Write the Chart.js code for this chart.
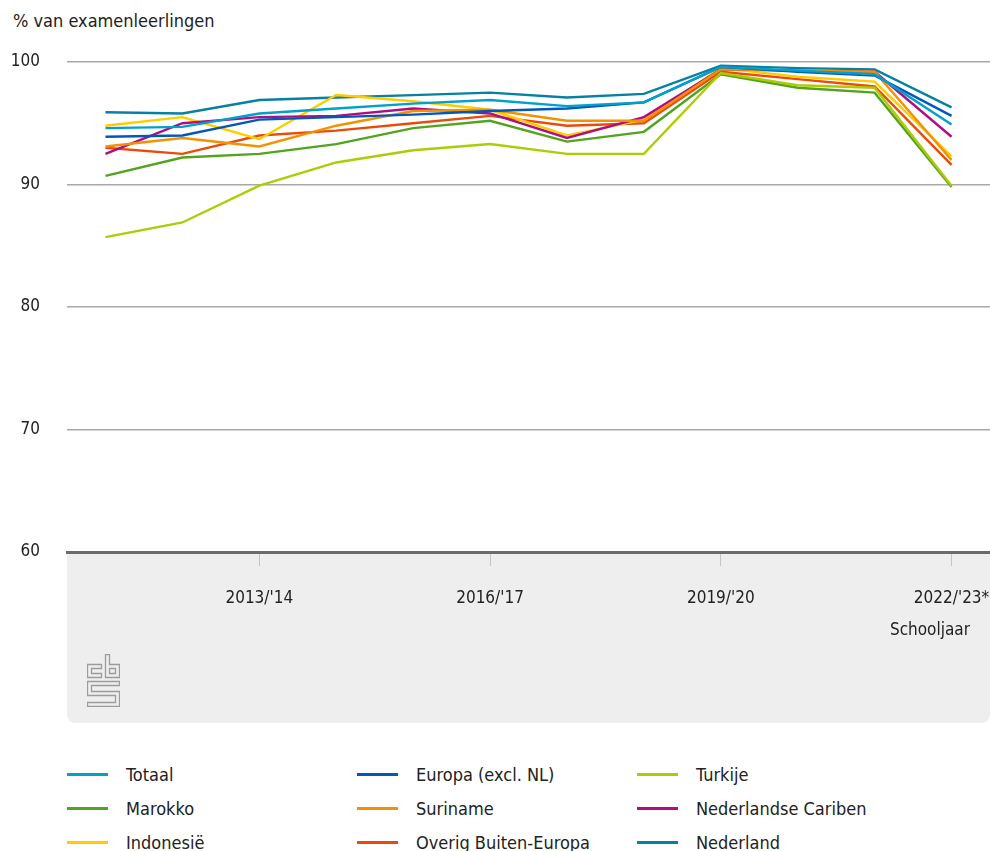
<!DOCTYPE html>
<html lang="nl">
<head>
<meta charset="utf-8">
<title>Examenleerlingen per herkomst</title>
<script src="https://cdn.jsdelivr.net/npm/chart.js@4.4.1/dist/chart.umd.min.js"></script>
<style>
  body { margin: 0; background: #fff; font-family: 'DejaVu Sans Condensed', 'Liberation Sans Narrow', sans-serif; color: #222; }
  #wrap { position: relative; width: 990px; height: 851px; overflow: hidden; }
  #yTitle { position: absolute; left: 13px; top: 10px; font-size: 18px; }
  #axisBox { position: absolute; left: 67px; top: 552px; width: 923px; height: 171px; background: #eeeeee; border-radius: 0 0 8px 8px; }
  #myChart { position: absolute; left: 0; top: 0; }
  #xTitle { position: absolute; right: 20px; top: 619px; font-size: 17px; }
  #logo { position: absolute; left: 87px; top: 654px; }
  #legend { position: absolute; left: 67px; top: 763px; width: 923px; display: grid; grid-template-columns: 290px 280px 300px; row-gap: 12px; font-size: 18px; }
  .item { display: flex; align-items: center; height: 22px; }
  .swatch { width: 41px; height: 3px; margin-right: 18px; }
</style>
</head>
<body>
<div id="wrap">
  <div id="yTitle">% van examenleerlingen</div>
  <div id="axisBox"></div>
  <canvas id="myChart" width="990" height="620"></canvas>
  <div id="xTitle">Schooljaar</div>
  <svg id="logo" width="33" height="53" viewBox="0 0 33 53" fill="none" stroke="#9c9c9c" stroke-width="1.3">
    <path d="M14.5 10.5 H0.5 V23.5 H14.5 V19.5 H4.5 V14.5 H14.5 Z"/>
    <path d="M18.5 0.5 H22.5 V10.5 H32.5 V23.5 H18.5 Z M22.5 14.5 V19.5 H28.5 V14.5 Z"/>
    <path d="M0.5 27.5 H32.5 V31.5 H4.5 V37.5 H32.5 V52.5 H0.5 V48.5 H28.5 V41.5 H0.5 Z"/>
  </svg>
  <div id="legend"></div>
</div>
<script>
// School years on the x axis
const schooljaren = ["2011/'12", "2012/'13", "2013/'14", "2014/'15", "2015/'16", "2016/'17",
  "2017/'18", "2018/'19", "2019/'20", "2020/'21", "2021/'22", "2022/'23*"];

// Share of exam candidates that passed (%)
const totaal      = [94.6, 94.7, 95.8, 96.2, 96.6, 96.9, 96.4, 96.7, 99.6, 99.3, 99.0, 94.9];
const europa      = [93.9, 94.0, 95.3, 95.5, 95.7, 96.0, 96.2, 96.7, 99.6, 99.2, 98.9, 95.6];
const turkije     = [85.7, 86.9, 89.9, 91.8, 92.8, 93.3, 92.5, 92.5, 99.1, 98.1, 97.9, 89.9];
const marokko     = [90.7, 92.2, 92.5, 93.3, 94.6, 95.2, 93.5, 94.3, 99.0, 97.9, 97.5, 89.8];
const suriname    = [93.1, 93.8, 93.1, 94.8, 96.0, 96.1, 95.2, 95.2, 99.4, 99.3, 99.2, 92.0];
const cariben     = [92.5, 95.0, 95.5, 95.6, 96.2, 95.8, 93.8, 95.5, 99.4, 99.3, 99.2, 93.9];
const indonesie   = [94.8, 95.5, 93.7, 97.3, 96.8, 96.1, 94.0, 95.3, 99.5, 98.8, 98.4, 92.3];
const overig      = [93.0, 92.5, 94.0, 94.4, 95.0, 95.6, 94.8, 95.0, 99.2, 98.6, 98.0, 91.6];
const nederland   = [95.9, 95.8, 96.9, 97.1, 97.3, 97.5, 97.1, 97.4, 99.7, 99.5, 99.4, 96.3];

// Y axis range and step
const yMin = 60;
const yMax = 100;
const yStep = 10;

// Series in legend order
const series = [
  { label: 'Totaal', data: totaal, color: '#00a1cd' },
  { label: 'Europa (excl. NL)', data: europa, color: '#0058b8' },
  { label: 'Turkije', data: turkije, color: '#afcb05' },
  { label: 'Marokko', data: marokko, color: '#53a31d' },
  { label: 'Suriname', data: suriname, color: '#f39200' },
  { label: 'Nederlandse Cariben', data: cariben, color: '#af0e80' },
  { label: 'Indonesië', data: indonesie, color: '#ffcc00' },
  { label: 'Overig Buiten-Europa', data: overig, color: '#e94c0a' },
  { label: 'Nederland', data: nederland, color: '#0581a2' },
];

Chart.defaults.font.family = "'DejaVu Sans Condensed', 'Liberation Sans Narrow', sans-serif";
Chart.defaults.font.size = 17;
Chart.defaults.color = '#222';

// Only every third school year gets a label and a tick mark
const showTick = index => index % 3 === 2;

// Function to build the line chart
function generateLineChart(idChart) {

  const datasets = series.map(s => ({
    label: s.label,
    data: s.data,
    borderColor: s.color,
    backgroundColor: s.color,
    borderWidth: 2.4,
    pointRadius: 0,
    tension: 0,
    fill: false,
  }));

  const config = {
    type: 'line',
    data: { labels: schooljaren, datasets: datasets },
    options: {
      responsive: false,
      animation: false,
      layout: { padding: { top: 62, left: 0, right: 0, bottom: 0 }, autoPadding: false },
      plugins: {
        legend: { display: false },
        tooltip: { enabled: false },
      },
      scales: {
        x: {
          offset: true,
          grid: {
            offset: false,
            drawOnChartArea: false,
            drawTicks: true,
            tickLength: 14,
            lineWidth: 1,
            color: ctx => showTick(ctx.index) ? '#c4c4c4' : 'rgba(0,0,0,0)',
          },
          border: { display: true, color: '#6b6b6b', width: 3 },
          ticks: {
            autoSkip: false,
            maxRotation: 0,
            padding: 22,
            font: { size: 17 },
            callback: (value, index) => showTick(index) ? schooljaren[index] : '',
          },
          // fixed axis height; the last label may hang over the right edge
          afterFit: scale => {
            scale.height = 68;
            scale.paddingLeft = 0;
            scale.paddingRight = 0;
          },
        },
        y: {
          min: yMin,
          max: yMax,
          grid: {
            drawTicks: false,
            lineWidth: 1.5,
            color: ctx => ctx.tick.value === yMin ? 'rgba(0,0,0,0)' : '#a8a8a8',
          },
          border: { display: false },
          ticks: { stepSize: yStep, padding: 27, font: { size: 17 } },
          afterFit: scale => { scale.width = 67; },
        },
      },
    },
  };

  return new Chart(idChart, config);
}

// Function to build the legend grid from the datasets
function buildLegend(chart) {
  const legend = document.getElementById('legend');
  chart.data.datasets.forEach(ds => {
    const item = document.createElement('div');
    item.className = 'item';
    item.innerHTML = `<span class="swatch" style="background:${ds.borderColor}"></span><span>${ds.label}</span>`;
    legend.appendChild(item);
  });
}

const chart = generateLineChart('myChart');
buildLegend(chart);
</script>
</body>
</html>
